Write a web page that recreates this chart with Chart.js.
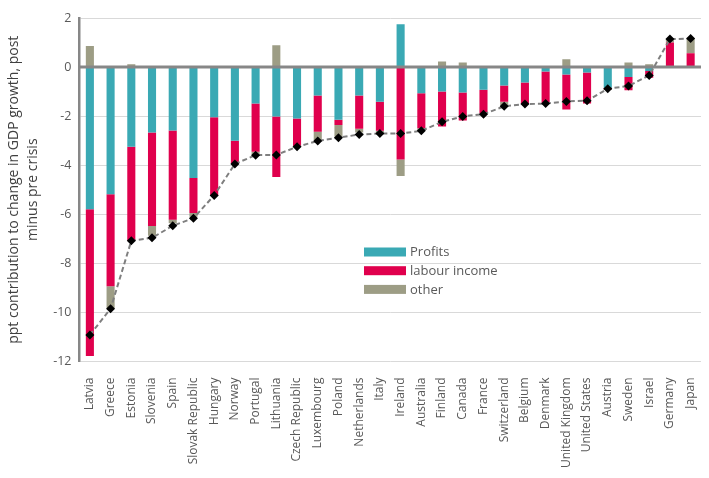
<!DOCTYPE html>
<html>
<head>
<meta charset="utf-8">
<script src="https://cdn.jsdelivr.net/npm/chart.js@4"></script>
<style>
  html, body { margin: 0; padding: 0; background: #fff; }
  #wrap { width: 709px; height: 478px; }
</style>
</head>
<body>
<div id="wrap"><canvas id="chart"></canvas></div>
<script>
const countries = ['Latvia', 'Greece', 'Estonia', 'Slovenia', 'Spain', 'Slovak Republic', 'Hungary', 'Norway',
  'Portugal', 'Lithuania', 'Czech Republic', 'Luxembourg', 'Poland', 'Netherlands', 'Italy', 'Ireland',
  'Australia', 'Finland', 'Canada', 'France', 'Switzerland', 'Belgium', 'Denmark', 'United Kingdom',
  'United States', 'Austria', 'Sweden', 'Israel', 'Germany', 'Japan']

const profits = [-5.8, -5.18, -3.25, -2.67, -2.59, -4.52, -2.05, -3.0, -1.49, -2.01, -2.1, -1.16, -2.15, -1.16, -1.41,
  1.75, -1.07, -1.0, -1.04, -0.92, -0.75, -0.63, -0.18, -0.3, -0.22, -0.85, -0.4, -0.16, 0, 0]

const labour = [-5.98, -3.75, -3.83, -3.81, -3.63, -1.43, -3.18, -0.93, -1.96, -2.47, -1.15, -1.48, -0.21, -1.35, -1.19,
  -3.77, -1.42, -1.42, -1.14, -0.96, -0.66, -0.88, -1.31, -1.43, -1.27, -0.05, -0.55, -0.28, 1.0, 0.56]

const other = [0.86, -0.89, 0.11, -0.4, -0.15, -0.15, 0, -0.02, -0.14, 0.89, 0, -0.33, -0.48, -0.16, -0.1,
  -0.67, -0.1, 0.23, 0.19, -0.03, -0.17, 0, 0, 0.32, 0, -0.03, 0.19, 0.11, 0.14, 0.6]

const total = [-10.92, -9.85, -7.08, -6.96, -6.47, -6.16, -5.23, -3.95, -3.59, -3.58, -3.25, -3.01, -2.88, -2.75, -2.71,
  -2.71, -2.6, -2.23, -2.01, -1.92, -1.6, -1.51, -1.49, -1.4, -1.37, -0.88, -0.77, -0.34, 1.14, 1.16]

const yTicks = [2, 0, -2, -4, -6, -8, -10, -12]

const colours = { profits: '#3aa9b4', labour: '#e0004d', other: '#9d9d85' }
const font = 'Open Sans'

// zero line sits on top of the bars, like the original
const zeroLine = {
  id: 'zeroLine',
  afterDatasetsDraw(chart) {
    const { ctx, chartArea, scales } = chart
    const y = scales.y.getPixelForValue(0)
    ctx.save()
    ctx.strokeStyle = '#878787'
    ctx.lineWidth = 3
    ctx.beginPath()
    ctx.moveTo(chartArea.left, y)
    ctx.lineTo(chartArea.right, y)
    ctx.stroke()
    ctx.restore()
  }
}

// legend box inside the plot
const insideLegend = {
  id: 'insideLegend',
  afterDraw(chart) {
    const ctx = chart.ctx
    const items = [['Profits', colours.profits], ['labour income', colours.labour], ['other', colours.other]]
    const x = 364, y0 = 252, gap = 18.7
    ctx.save()
    ctx.font = '13px "' + font + '"'
    ctx.textBaseline = 'middle'
    items.forEach(([txt, col], i) => {
      const y = y0 + i * gap
      ctx.fillStyle = col
      ctx.fillRect(x, y - 4.5, 42, 9)
      ctx.fillStyle = '#595959'
      ctx.fillText(txt, x + 46, y + 0.5)
    })
    ctx.restore()
  }
}

const bar = (label, data, color) => ({
  type: 'bar', label, data, backgroundColor: color, stack: 'parts', order: 2,
  categoryPercentage: 1.0, barPercentage: 0.39
})

new Chart(document.getElementById('chart'), {
  data: {
    labels: countries,
    datasets: [
      bar('Profits', profits, colours.profits),
      bar('labour income', labour, colours.labour),
      bar('other', other, colours.other),
      {
        type: 'line', label: 'total', data: total, stack: 'total', order: 0,
        borderColor: '#7f7f7f', borderWidth: 2, borderDash: [5, 3],
        pointStyle: 'rectRot', pointRadius: 4.5, pointBackgroundColor: '#000', pointBorderColor: '#000',
        pointBorderWidth: 0, tension: 0, fill: false
      }
    ]
  },
  options: {
    responsive: true,
    maintainAspectRatio: false,
    animation: false,
    layout: { padding: { left: 4, right: 8, top: 18, bottom: 2 } },
    plugins: {
      legend: { display: false },
      tooltip: { enabled: false }
    },
    scales: {
      x: {
        stacked: true,
        // rotated labels reserve extra room on the right, drop it
        afterFit: (s) => { s.paddingRight = 0 },
        grid: { display: false },
        border: { display: false },
        ticks: {
          autoSkip: false, minRotation: 90, maxRotation: 90, padding: 8,
          color: '#595959', font: { family: font, size: 12 }
        }
      },
      y: {
        stacked: true,
        min: -12, max: 2,
        afterBuildTicks: (s) => { s.ticks = yTicks.map(v => ({ value: v })) },
        grid: {
          drawTicks: false,
          color: (c) => c.tick && c.tick.value === 0 ? 'rgba(0,0,0,0)' : '#d9d9d9',
          lineWidth: 1
        },
        border: { display: true, color: '#878787', width: 2.5 },
        ticks: { padding: 8, color: '#595959', font: { family: font, size: 12.5 } },
        title: {
          display: true,
          text: ['ppt contribution to change in GDP growth, post', 'minus pre crisis'],
          color: '#404040',
          font: { family: font, size: 14, lineHeight: 1.4 },
          padding: { top: 0, bottom: 2 }
        }
      }
    }
  },
  plugins: [zeroLine, insideLegend]
})
</script>
</body>
</html>
